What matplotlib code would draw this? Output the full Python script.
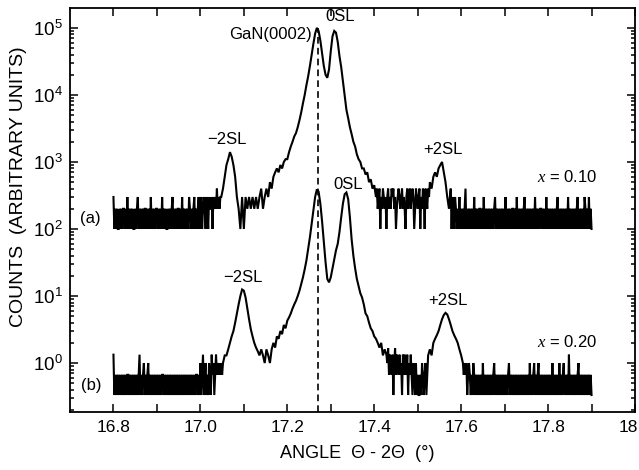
import numpy as np
import matplotlib
matplotlib.use("Agg")
import matplotlib.pyplot as plt
from matplotlib.ticker import FixedLocator, FixedFormatter, LogLocator, NullFormatter
from matplotlib.transforms import ScaledTranslation

plt.rcParams['font.family'] = ['Liberation Sans', 'DejaVu Sans']
plt.rcParams['mathtext.fontset'] = 'custom'
plt.rcParams['mathtext.rm'] = 'Liberation Sans'
plt.rcParams['mathtext.it'] = 'Liberation Serif:italic'
plt.rcParams['mathtext.bf'] = 'Liberation Sans:bold'

# ---------------- data ----------------
# Sampling: noisy baseline stretches are read at 0.002 deg, peak stretches at 0.004 deg.
fine_step = 0.002
coarse_step = 0.004

# curve (a), x = 0.10  -- baseline noise in units of 100 counts
a_noise_left_start = 16.800
a_noise_left = [3, 1, 2, 1, 2, 1, 1, 2, 1, 2,
                1, 2, 2, 1, 2, 1, 3, 1, 2, 1,
                2, 1, 2, 1, 1, 2, 1, 2, 3, 1,
                2, 1, 2, 1, 2, 1, 2, 2, 1, 2,
                1, 2, 1, 3, 1, 2, 1, 2, 1, 2,
                2, 1, 2, 1, 2, 1, 3, 1, 2, 1,
                2, 1, 1, 2, 1, 2, 1, 2, 3, 1,
                2, 1, 2, 1, 2, 2, 1, 2, 1, 3,
                1, 2, 1, 2, 1, 2, 1, 3, 2, 1,
                2, 1, 2, 3, 1, 2, 1, 2, 3, 1,
                2, 3, 1, 2, 3, 2, 1, 3, 2, 1,
                3, 2, 2, 3, 1, 3, 2, 3, 2, 4,
                2, 3, 2, 3]
a_peaks_start = 17.048
a_peaks = [300, 400, 600, 900, 1100, 1400, 1200, 900, 600, 300,
           200, 100, 300, 100, 300, 200, 300, 200, 300, 200,
           300, 200, 300, 400, 200, 300, 400, 300, 500, 400,
           600, 700, 800, 700, 900, 800, 1000, 1100, 1100, 1400,
           1700, 2000, 2400, 2700, 3300, 4200, 5500, 7500, 10000, 14000,
           19000, 27000, 40000, 58000, 82000, 100000, 90000, 65000, 42000, 27000,
           20000, 18000, 24000, 45000, 75000, 90000, 85000, 62000, 38000, 26000,
           16000, 10000, 6000, 4500, 3300, 2600, 2000, 1700, 1300, 1100,
           1000, 800, 800, 650, 700, 500, 550, 400, 450]
a_noise_mid_start = 17.404
a_noise_mid = [3, 4, 2, 3, 4, 1, 3, 2, 4, 3,
               2, 3, 1, 3, 4, 2, 3, 2, 4, 3,
               4, 2, 3, 1, 2, 3, 4, 3, 2, 3,
               4, 2, 3, 2, 1, 3, 4, 2, 3, 4,
               2, 3, 4, 3, 1, 2, 4, 3, 2, 3,
               4, 1, 3, 2, 4, 3, 1, 4, 3, 2,
               4, 3]
a_sat_start = 17.528
a_sat = [500, 400, 600, 700, 600, 800, 900, 1000, 700, 500, 300]
a_noise_right_start = 17.572
a_noise_right = [2, 3, 4, 1, 3, 2, 1, 3, 2, 1,
                 2, 1, 3, 1, 2, 1, 2, 1, 2, 4,
                 1, 2, 1, 2, 1, 2, 1, 2, 1, 3,
                 1, 2, 1, 2, 1, 2, 2, 1, 2, 1,
                 3, 1, 2, 1, 2, 1, 2, 1, 2, 1,
                 2, 1, 2, 3, 1, 2, 1, 2, 1, 2,
                 1, 2, 1, 2, 1, 3, 1, 2, 1, 2,
                 1, 2, 1, 2, 2, 1, 2, 1, 3, 1,
                 2, 1, 2, 1, 2, 1, 2, 3, 1, 2,
                 1, 2, 1, 2, 1, 2, 1, 2, 1, 3,
                 1, 2, 1, 2, 1, 2, 2, 1, 2, 1,
                 2, 1, 3, 1, 2, 1, 2, 1, 2, 1,
                 2, 1, 2, 1, 2, 3, 1, 2, 1, 2,
                 1, 2, 1, 2, 1, 2, 1, 3, 1, 2,
                 1, 2, 1, 2, 1, 2, 1, 2, 3, 1,
                 2, 1, 2, 1, 2, 1, 3, 2, 1, 2,
                 1, 3, 1, 2, 1]

# curve (b), x = 0.20  -- baseline noise in units of 1/3
b_noise_left_start = 16.800
b_noise_left = [4, 1, 2, 1, 2, 1, 2, 1, 2, 1,
                2, 1, 2, 1, 2, 1, 2, 2, 1, 2,
                1, 2, 1, 2, 1, 2, 1, 2, 1, 2,
                4, 1, 2, 1, 2, 3, 1, 2, 1, 2,
                3, 1, 2, 1, 2, 1, 2, 1, 2, 1,
                2, 1, 2, 1, 2, 1, 2, 2, 1, 2,
                1, 2, 1, 2, 1, 2, 1, 2, 1, 2,
                1, 2, 1, 2, 1, 2, 1, 2, 1, 2,
                1, 2, 1, 2, 1, 2, 1, 2, 1, 2,
                1, 2, 1, 2, 1, 2, 2, 1, 2, 1,
                3, 1, 2, 4, 1, 2, 3, 1, 2, 1,
                3, 2, 1, 4, 2, 3, 1, 2, 4, 2,
                3, 2, 3, 2, 3, 2]
b_peaks_start = 17.052
b_peaks = [1.0, 1.3, 1.3, 1.6, 2.0, 2.5, 3.0, 4.0, 5.5, 7.5,
           10, 12.5, 12, 9.5, 6.5, 4.5, 3.2, 2.5, 2.0, 1.7,
           1.5, 1.3, 1.6, 1.3, 1.0, 1.6, 1.3, 1.0, 1.6, 2.0,
           1.7, 2.5, 2.3, 3.0, 2.7, 3.7, 3.3, 4.3, 4.8, 5.5,
           6.5, 7.5, 8.5, 10, 12, 15, 19, 25, 34, 50,
           75, 120, 190, 300, 390, 360, 240, 130, 65, 32,
           18, 16, 19, 26, 36, 48, 60, 90, 150, 240,
           330, 350, 280, 150, 70, 40, 26, 18, 14, 11,
           9.5, 7.5, 5.5, 5.0, 4.0, 3.3, 3.0, 2.5, 2.3, 2.0,
           1.7, 2.0, 1.3, 1.6]
b_noise_mid_start = 17.428
b_noise_mid = [4, 3, 5, 2, 4, 3, 2, 4, 1, 3,
               5, 2, 4, 3, 2, 4, 2, 3, 1, 4,
               2, 4, 3, 2, 4, 1, 3, 2, 4, 2,
               1, 3, 2, 1, 3, 1, 2, 1, 1, 2,
               1, 3, 2, 1, 2, 3, 1, 2]
b_sat_start = 17.524
b_sat = [1.3, 1.6, 1.3, 2.0, 2.3, 2.6, 3.0, 3.7, 4.5, 5.2,
         5.6, 5.3, 4.5, 3.7, 3.0, 2.6, 2.3, 2.0, 1.6, 1.3]
b_noise_right_start = 17.604
b_noise_right = [3, 2, 3, 2, 3, 1, 2, 3, 2, 1,
                 2, 1, 3, 2, 1, 2, 1, 2, 1, 2,
                 1, 2, 1, 3, 1, 2, 1, 2, 1, 2,
                 1, 2, 1, 2, 1, 2, 3, 1, 2, 1,
                 2, 1, 2, 1, 2, 1, 2, 1, 2, 1,
                 2, 1, 2, 3, 1, 2, 1, 2, 1, 2,
                 1, 2, 1, 2, 1, 2, 1, 2, 1, 2,
                 1, 2, 1, 2, 1, 2, 1, 3, 1, 2,
                 1, 2, 3, 1, 2, 1, 2, 3, 1, 2,
                 1, 2, 1, 2, 1, 2, 1, 2, 1, 2,
                 1, 2, 1, 3, 1, 2, 1, 2, 1, 2,
                 1, 3, 1, 2, 1, 2, 3, 1, 2, 1,
                 2, 1, 4, 1, 2, 1, 2, 1, 2, 1,
                 2, 1, 2, 3, 1, 2, 1, 2, 1, 2,
                 1, 2, 1, 2, 1, 2, 1, 2, 1]

a_unit = 100.0
b_unit = 1.0 / 3.0

gan_peak_angle = 17.27
gan_peak_top = 1.0e5

xtick_values = [16.8, 16.9, 17.0, 17.1, 17.2, 17.3, 17.4, 17.5, 17.6, 17.7, 17.8, 17.9, 18.0]
xtick_labels = ["16.8", "", "17.0", "", "17.2", "", "17.4", "", "17.6", "", "17.8", "", "18"]
ytick_values = [1e0, 1e1, 1e2, 1e3, 1e4, 1e5]
ytick_labels = [r"$\mathrm{10^0}$", r"$\mathrm{10^1}$", r"$\mathrm{10^2}$",
                r"$\mathrm{10^3}$", r"$\mathrm{10^4}$", r"$\mathrm{10^5}$"]


# ---------------- build series ----------------
def build(segments):
    xs, ys = [], []
    for start, step, vals, unit in segments:
        v = np.asarray(vals, dtype=float) * unit
        xs.append(start + step * np.arange(len(v)))
        ys.append(v)
    return np.concatenate(xs), np.concatenate(ys)


x_a, y_a = build([
    (a_noise_left_start, fine_step, a_noise_left, a_unit),
    (a_peaks_start, coarse_step, a_peaks, 1.0),
    (a_noise_mid_start, fine_step, a_noise_mid, a_unit),
    (a_sat_start, coarse_step, a_sat, 1.0),
    (a_noise_right_start, fine_step, a_noise_right, a_unit),
])
x_b, y_b = build([
    (b_noise_left_start, fine_step, b_noise_left, b_unit),
    (b_peaks_start, coarse_step, b_peaks, 1.0),
    (b_noise_mid_start, fine_step, b_noise_mid, b_unit),
    (b_sat_start, coarse_step, b_sat, 1.0),
    (b_noise_right_start, fine_step, b_noise_right, b_unit),
])

# ---------------- figure ----------------
fig = plt.figure(figsize=(6.39, 4.70), dpi=100)
ax = fig.add_axes([70 / 639, 1 - 412 / 470, 565 / 639, 404 / 470])

ax.plot(x_a, y_a, color='black', lw=1.5, solid_joinstyle='miter')
ax.plot(x_b, y_b, color='black', lw=1.5, solid_joinstyle='miter')

ax.set_yscale('log')
ax.set_xlim(16.7, 18.0)
ax.set_ylim(0.186, 1.98e5)

ax.vlines(gan_peak_angle, 0.186, gan_peak_top, colors='black', lw=1.2,
          linestyles=(0, (4, 2.5)))

# ticks
ax.xaxis.set_major_locator(FixedLocator(xtick_values))
ax.xaxis.set_major_formatter(FixedFormatter(xtick_labels))
ax.xaxis.set_minor_locator(FixedLocator([]))
ax.yaxis.set_major_locator(FixedLocator(ytick_values))
ax.yaxis.set_major_formatter(FixedFormatter(ytick_labels))
ax.yaxis.set_minor_locator(LogLocator(base=10, subs=np.arange(2, 10), numticks=20))
ax.yaxis.set_minor_formatter(NullFormatter())
ax.tick_params(which='both', direction='in', top=True, right=True, width=1.1)
ax.tick_params(which='major', length=6, labelsize=12.5, pad=6)
ax.tick_params(axis='y', which='major', labelsize=13.5, pad=5)
ax.tick_params(which='minor', length=3.2)
for s in ax.spines.values():
    s.set_linewidth(1.3)

ax.set_xlabel("ANGLE  \u0398 - 2\u0398  (\u00b0)", fontsize=13)
ax.set_ylabel("COUNTS  (ARBITRARY UNITS)", fontsize=14)
ax.xaxis.set_label_coords(0.508, -0.1015)
ax.yaxis.set_label_coords(-0.092, 0.557)
ax.xaxis.label.set_va('center')
ax.yaxis.label.set_va('center')

fs = 12
ax.text(17.256, 7.9e4, "GaN(0002)", ha='right', va='center', fontsize=fs)
ax.text(17.321, 1.46e5, "0SL", ha='center', va='center', fontsize=fs)
ax.text(17.061, 2140, "\u22122SL", ha='center', va='center', fontsize=fs)
ax.text(17.557, 1520, "+2SL", ha='center', va='center', fontsize=fs)
ax.text(17.914, 597, r"$x$ = 0.10", ha='right', va='center', fontsize=fs)
ax.text(16.746, 145, "(a)", ha='center', va='center', fontsize=fs)
ax.text(17.339, 454, "0SL", ha='center', va='center', fontsize=fs)
ax.text(17.098, 19.2, "\u22122SL", ha='center', va='center', fontsize=fs)
ax.text(17.569, 8.7, "+2SL", ha='center', va='center', fontsize=fs)
ax.text(17.914, 2.06, r"$x$ = 0.20", ha='right', va='center', fontsize=fs)
ax.text(16.748, 0.47, "(b)", ha='center', va='center', fontsize=fs)

# last x tick label ("18") sits against the right edge, as in the reference
fig.canvas.draw()
last = ax.xaxis.get_major_ticks()[-1].label1
last.set_transform(last.get_transform() + ScaledTranslation(-7 / 100, 0, fig.dpi_scale_trans))

fig.savefig("out.png", dpi=100)
